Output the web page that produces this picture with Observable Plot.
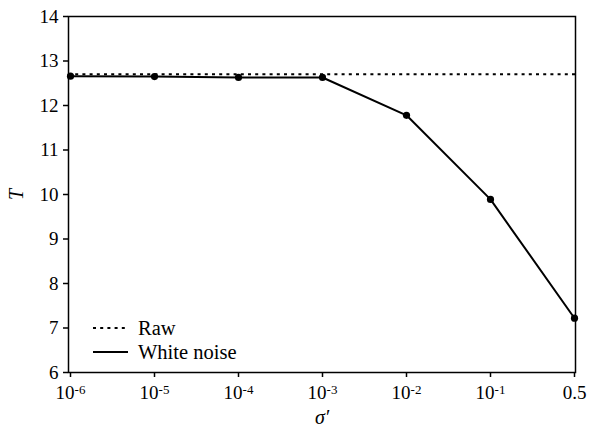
<!DOCTYPE html>
<html>
<head>
<meta charset="utf-8">
<script src="https://cdn.jsdelivr.net/npm/d3@7"></script>
<script src="https://cdn.jsdelivr.net/npm/@observablehq/plot@0.6"></script>
<style>
  html, body { margin: 0; padding: 0; background: white; }
  #wrap { position: relative; width: 590px; height: 428px; overflow: hidden; }
  #legend { position: absolute; left: 0; top: 0; pointer-events: none; }
</style>
</head>
<body>
<div id="wrap"></div>
<script>
const xLabels = ["10^-6", "10^-5", "10^-4", "10^-3", "10^-2", "10^-1", "0.5"];
const whiteNoise = [12.66, 12.65, 12.63, 12.63, 11.78, 9.89, 7.22];
const rawValue = 12.7;
const yTicks = [6, 7, 8, 9, 10, 11, 12, 13, 14];
const seriesNames = ["Raw", "White noise"];

const data = xLabels.map((x, i) => ({x, T: whiteNoise[i]}));
const FONT = "'Liberation Serif', 'DejaVu Serif', serif";

const chart = Plot.plot({
  width: 590,
  height: 428,
  marginLeft: 68,
  marginRight: 15,
  marginTop: 16,
  marginBottom: 56,
  style: {fontFamily: FONT, fontSize: "19px", color: "black", background: "white", overflow: "visible"},
  x: {type: "point", domain: xLabels, padding: 0},
  y: {domain: [6, 14]},
  marks: [
    Plot.ruleY([rawValue], {stroke: "black", strokeWidth: 2, strokeDasharray: "3,4.2"}),
    Plot.line(data, {x: "x", y: "T", stroke: "black", strokeWidth: 2}),
    Plot.dot(data, {x: "x", y: "T", r: 3.6, fill: "black", stroke: "none"}),
    Plot.frame({stroke: "black", strokeWidth: 1.5}),
    Plot.axisX({ticks: xLabels, tickSize: 5, tickPadding: 8, strokeWidth: 1.5, fontSize: 19, fontFamily: FONT,
      label: "σ′", labelAnchor: "center", labelArrow: "none", labelOffset: 51}),
    Plot.axisY({ticks: yTicks, tickSize: 5, tickPadding: 5, strokeWidth: 1.5, fontSize: 19, fontFamily: FONT,
      label: "T", labelAnchor: "center", labelArrow: "none", labelOffset: 60})
  ]
});

document.getElementById("wrap").appendChild(chart);

// enforce fonts, superscripts for tick labels, italic axis labels
const svg = d3.select(chart);
svg.selectAll("text").style("font-family", FONT).style("font-size", "19px");
svg.selectAll("g[aria-label='x-axis tick label'] text").each(function() {
  const t = d3.select(this);
  const s = t.text();
  if (s.includes("^")) {
    const [base, exp] = s.split("^");
    t.text(base);
    t.append("tspan").attr("dy", "-0.4em").style("font-size", "13px").text(exp);
  }
});
svg.selectAll("g[aria-label='x-axis label'] text, g[aria-label='y-axis label'] text")
  .style("font-style", "italic").style("font-size", "20px");

// legend overlay
const leg = d3.select("#wrap").append("svg").attr("id", "legend").attr("width", 590).attr("height", 428)
  .style("font-family", FONT).style("font-size", "20.5px");
const legRows = [
  {name: seriesNames[0], dash: "3,4.2", y: 328},
  {name: seriesNames[1], dash: null, y: 352}
];
legRows.forEach(r => {
  leg.append("line").attr("x1", 93).attr("x2", 128).attr("y1", r.y).attr("y2", r.y)
    .attr("stroke", "black").attr("stroke-width", 2).attr("stroke-dasharray", r.dash);
  leg.append("text").attr("x", 138).attr("y", r.y).attr("dy", "0.35em").text(r.name);
});
</script>
</body>
</html>
